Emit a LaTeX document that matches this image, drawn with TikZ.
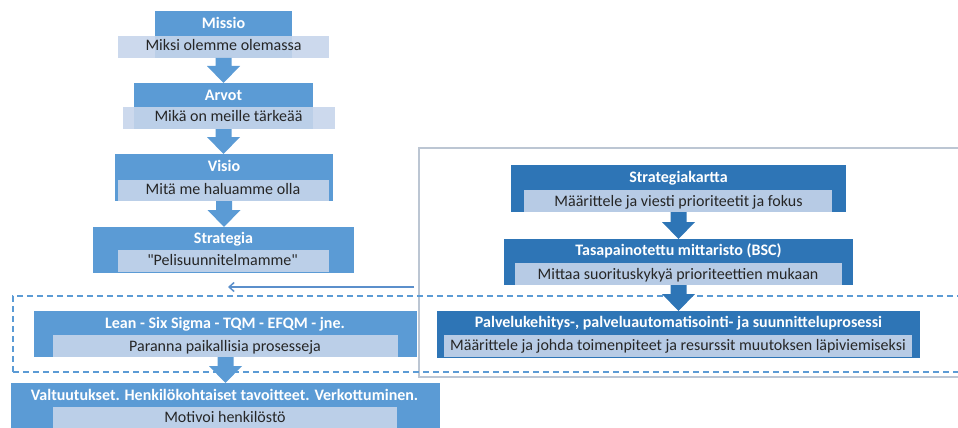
\documentclass[tikz,border=0pt]{standalone}
\usepackage{fontspec}
\setmainfont{Carlito}[Ligatures=TeXOff]
\usetikzlibrary{arrows.meta,calc,fit}

\definecolor{lblue}{HTML}{5B9BD5}
\definecolor{dblue}{HTML}{2E75B6}
\definecolor{pale}{HTML}{C6D5EB}
\definecolor{ink}{HTML}{262626}
\definecolor{framegray}{HTML}{BCC6D3}
\definecolor{linkblue}{HTML}{5B8FCB}

\newcommand\boxfont{\fontsize{16}{19}\selectfont}

% Block arrow from the bottom of one panel to the top of the next
\newcommand\blockarrow[3]{%
  \fill[#3] let \p1=(#1), \p2=(#2) in
    (\x1-8pt,\y1) -- (\x1+8pt,\y1) -- (\x1+8pt,\y2+17pt) --
    (\x1+16.5pt,\y2+17pt) -- (\x1,\y2) -- (\x1-16.5pt,\y2+17pt) --
    (\x1-8pt,\y2+17pt) -- cycle;}

\begin{document}
\begin{tikzpicture}[x=1pt,y=-1pt,
  every node/.style={inner sep=0pt, outer sep=0pt},
  panel/.style={fill=#1, draw=none},
  paper/.style={fill=pale, fill opacity=0.9, draw=none},
  head/.style={text=white, font=\boxfont\bfseries, anchor=base},
  body/.style={text=ink, font=\boxfont, anchor=base},
  grayframe/.style={draw=framegray, line width=2.5pt},
  dashframe/.style={draw=lblue, line width=1.5pt, dash pattern=on 6pt off 4pt},
  feedback/.style={draw=linkblue, line width=1.5pt,
    -{Straight Barb[length=5pt,width=9pt]}}]
\useasboundingbox (0,0) rectangle (958,428);
\clip (0,0) rectangle (958,428);

% frames
\node[grayframe, fit={(419,148) (1000,377)}] (bscframe) {};
\node[dashframe, fit={(13,296) (1000,372)}] (localframe) {};

% left column
\node[panel=lblue, fit={(155,11) (292,58)}] (missio) {};
\node[paper, fit={(118,36) (329,58)}] (missio-p) {};
\node[head] (missio-h) at (223.5,28.3) {Missio};
\node[body] (missio-b) at (223.5,50.7) {Miksi olemme olemassa};

\node[panel=lblue, fit={(134,83) (313,129)}] (arvot) {};
\node[paper, fit={(123,107) (335,129)}] (arvot-p) {};
\node[head] (arvot-h) at (223.5,100) {Arvot};
\node[body] (arvot-b) at (228.5,121.7) {Mikä on meille tärkeää};

\node[panel=lblue, fit={(115,154) (333,201)}] (visio) {};
\node[paper, fit={(118,180) (329,201)}] (visio-p) {};
\node[head] (visio-h) at (224,171.7) {Visio};
\node[body] (visio-b) at (223,194.3) {Mitä me haluamme olla};

\node[panel=lblue, fit={(93,227) (354,273)}] (strategia) {};
\node[paper, fit={(118,250) (329,272)}] (strategia-p) {};
\node[head] (strategia-h) at (223.5,243.3) {Strategia};
\node[body] (strategia-b) at (222.5,265) {"Pelisuunnitelmamme"};

\node[panel=lblue, fit={(34,311) (417,357)}] (lean) {};
\node[paper, fit={(53,335) (398,357)}] (lean-p) {};
\node[head] (lean-h) at (225,328.3) {Lean - Six Sigma - TQM - EFQM - jne.};
\node[body] (lean-b) at (225,351) {Paranna paikallisia prosesseja};

\node[panel=lblue, fit={(11,383) (440,430)}] (valt) {};
\node[paper, fit={(53,407) (397,430)}] (valt-p) {};
\node[head] (valt-h) at (224.5,400.7) {Valtuutukset. Henkilökohtaiset tavoitteet. Verkottuminen.};
\node[body] (valt-b) at (225,422.7) {Motivoi henkilöstö};

% right column
\node[panel=dblue, fit={(511,165) (846,212)}] (kartta) {};
\node[paper, fit={(524,190) (832,212)}] (kartta-p) {};
\node[head] (kartta-h) at (678.5,182.3) {Strategiakartta};
\node[body] (kartta-b) at (678.5,206.7) {Määrittele ja viesti prioriteetit ja fokus};

\node[panel=dblue, fit={(504,239) (853,285)}] (bsc) {};
\node[paper, fit={(515,263) (842,285)}] (bsc-p) {};
\node[head] (bsc-h) at (678.5,255) {Tasapainotettu mittaristo (BSC)};
\node[body] (bsc-b) at (678,279.3) {Mittaa suorituskykyä prioriteettien mukaan};

\node[panel=dblue, fit={(437,311) (920,358)}] (palvelu) {};
\node[paper, fit={(444,335) (912,357)}] (palvelu-p) {};
\node[head] (palvelu-h) at (678.5,327.3) {Palvelukehitys-, palveluautomatisointi- ja suunnitteluprosessi};
\node[body] (palvelu-b) at (678,350) {Määrittele ja johda toimenpiteet ja resurssit muutoksen läpiviemiseksi};

% flow arrows
\blockarrow{missio.south}{arvot.north}{lblue}
\blockarrow{arvot.south}{visio.north}{lblue}
\blockarrow{visio.south}{strategia.north}{lblue}
\blockarrow{lean.south}{valt.north}{lblue}
\blockarrow{kartta.south}{bsc.north}{dblue}
\blockarrow{bsc.south}{palvelu.north}{dblue}

% feedback link towards the strategy column
\coordinate (fb-start) at (414,287);
\coordinate (fb-end) at (228,287);
\draw[feedback] (fb-start) -- (fb-end);
\end{tikzpicture}
\end{document}
